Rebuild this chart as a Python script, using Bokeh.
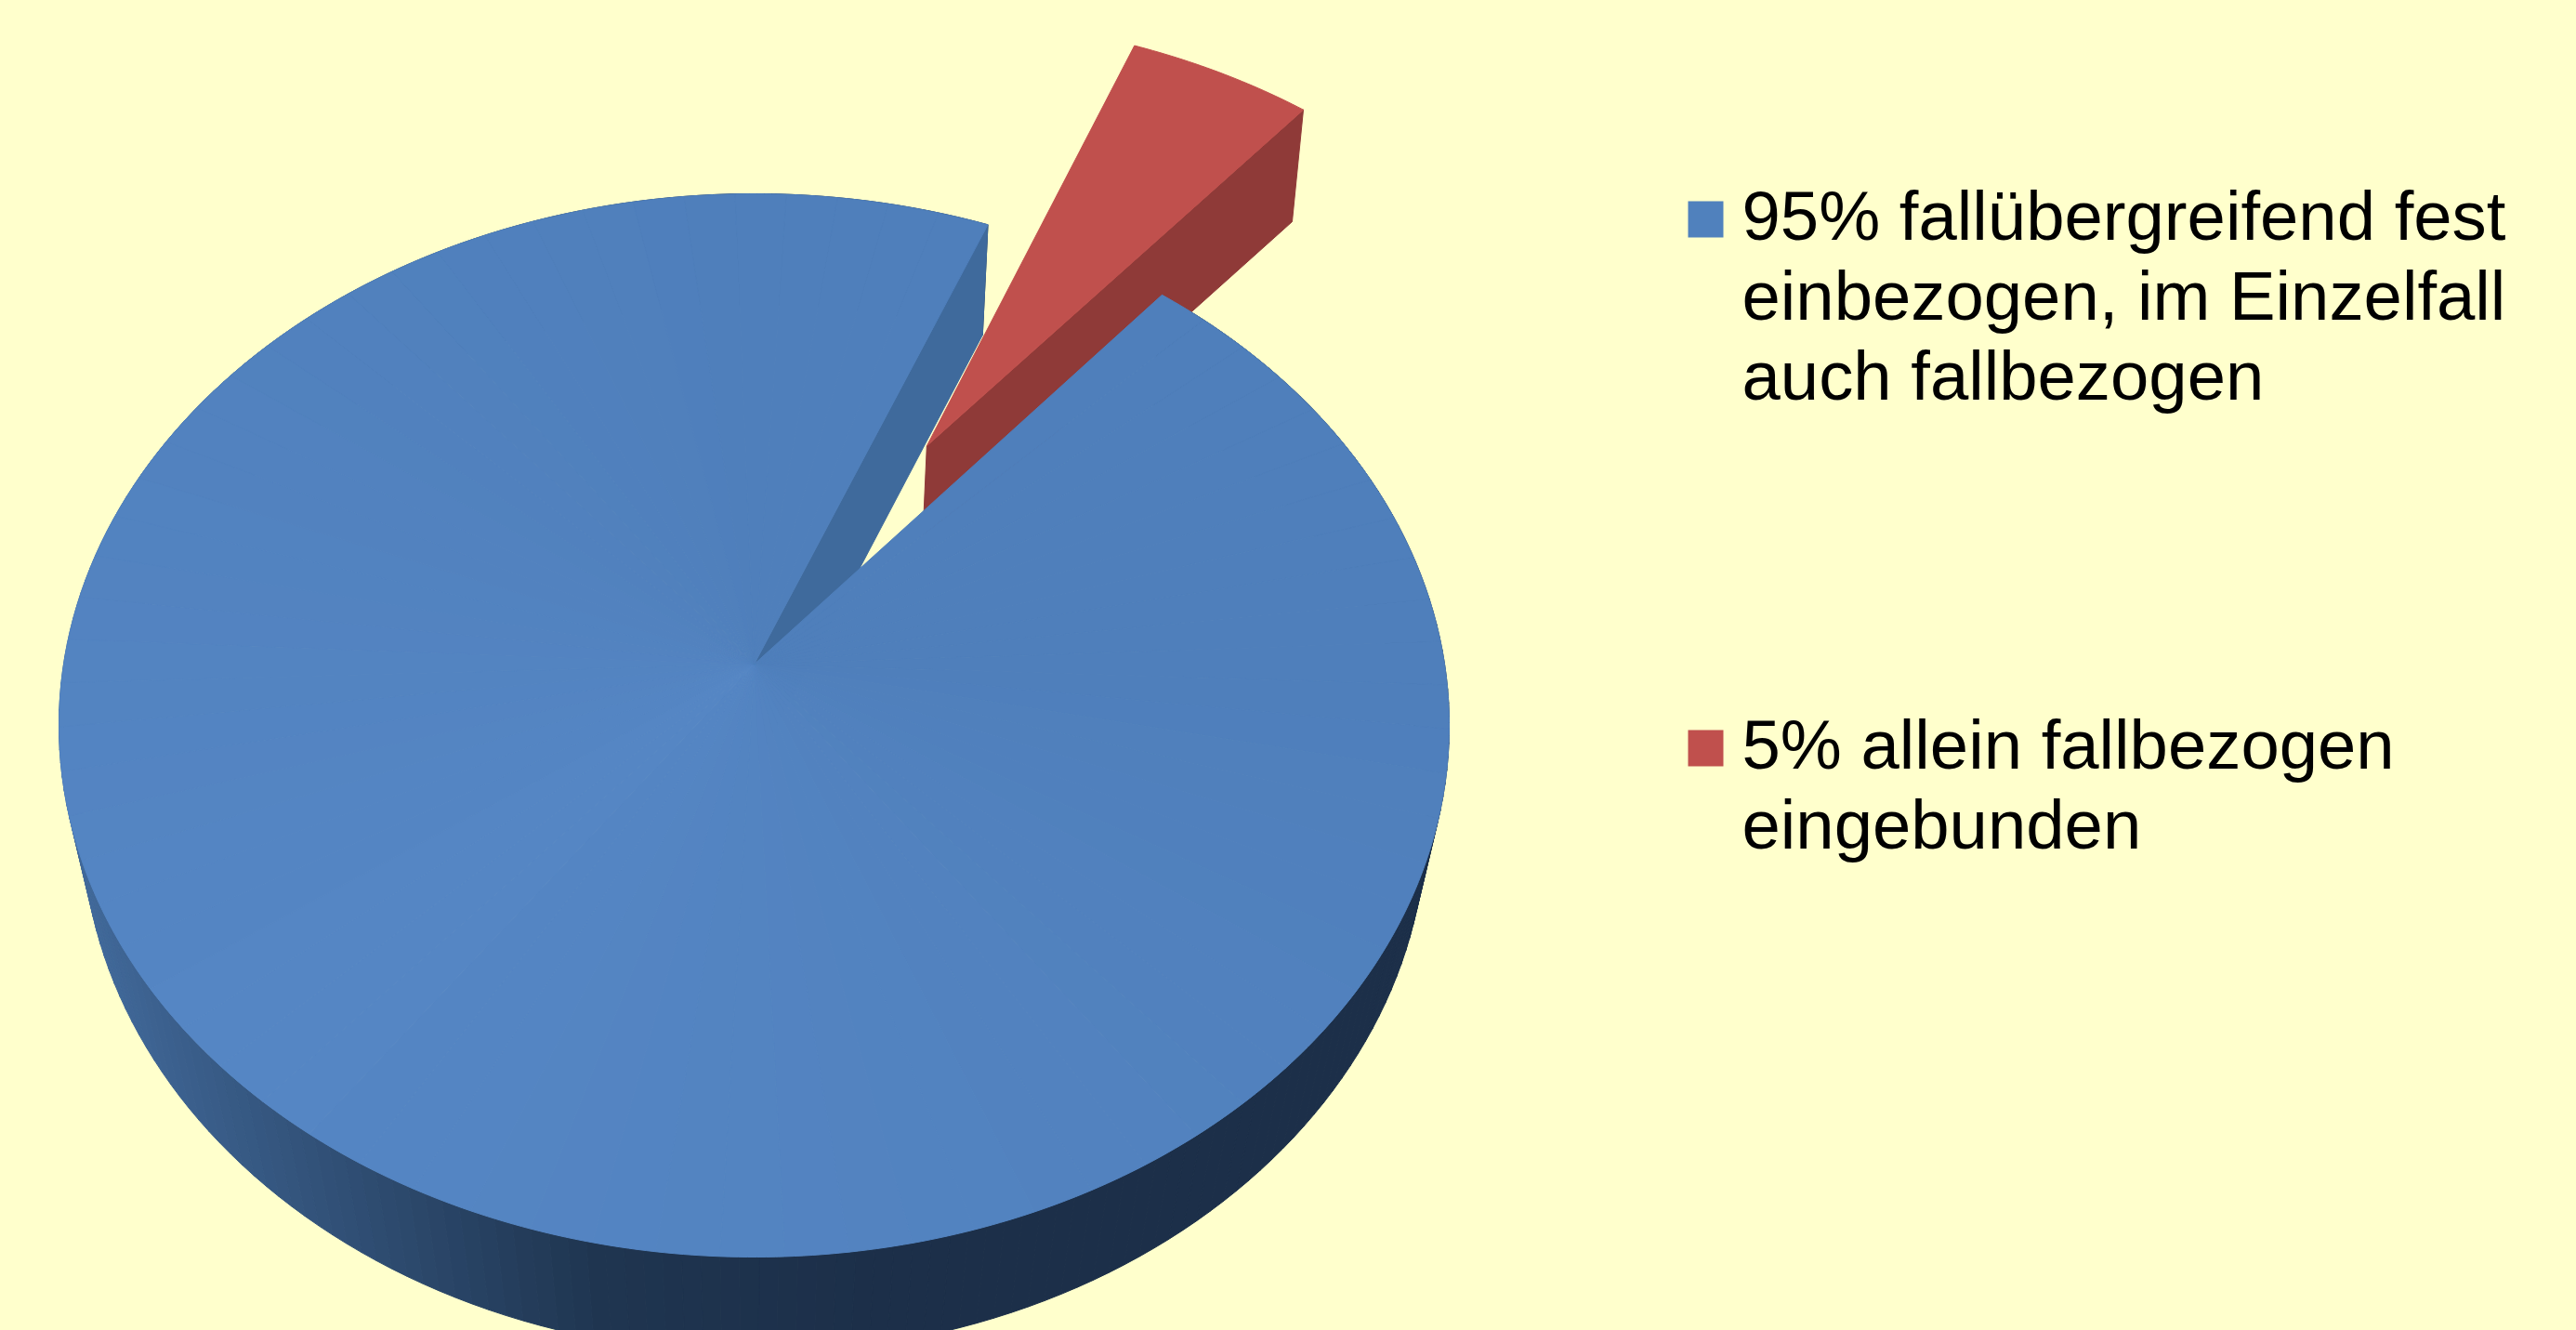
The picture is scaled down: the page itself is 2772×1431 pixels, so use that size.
import numpy as np
from bokeh.plotting import figure
from bokeh.embed import file_html
from bokeh.resources import INLINE
from bokeh.core.properties import value

# data
shares = [95, 5]
labels = ["95% fallübergreifend fest\neinbezogen, im Einzelfall\nauch fallbezogen",
          "5% allein fallbezogen\neingebunden"]
colors_top = ["#5181bd", "#c0504d"]
colors_cut = ["#3f6a9c", "#8f3a38"]
legend_colors = ["#5081bd", "#c0504d"]

# view of the pie: tilted disc seen in perspective
CX, CY, RX, RY, K = 811.0, 780.0, 748.0, 572.0, 0.115
START = 22.0          # degrees clockwise from "up" at which the small slice begins
EXPLODE = 0.51        # slice pull-out as a share of the radius
WALL_A, WALL_B = 0.9865, 122.0


def project(tx, ty, bottom=False):
    tx, ty = np.asarray(tx, float), np.asarray(ty, float)
    d = 1 + K * ty
    u = tx * np.sqrt(1 - K * K) / d
    v = (ty + K) / d
    sx = CX + RX * u
    sy = CY - RY * v
    if bottom:
        s = 0.982 - 0.00002 * sy
        sx = CX + (sx - CX) * s
        sy = WALL_A * sy + WALL_B
    return sx, sy


def rim(a0, a1, n, ox=0.0, oy=0.0):
    a = np.radians(np.linspace(a0, a1, n))
    return ox + np.sin(a), oy + np.cos(a)


def lerp(c0, c1, t):
    t = float(np.clip(t, 0, 1))
    a = [int(c0[i:i + 2], 16) for i in (1, 3, 5)]
    b = [int(c1[i:i + 2], 16) for i in (1, 3, 5)]
    return "#%02x%02x%02x" % tuple(round(a[i] + (b[i] - a[i]) * t) for i in range(3))


span_small = 360.0 * shares[1] / sum(shares)
blue_a0 = START + span_small
blue_a1 = START + 360.0

p = figure(width=2764, height=1423, x_range=(8, 2772), y_range=(1431, 8),
           toolbar_location=None, output_backend="svg", min_border=0,
           background_fill_color="#ffffcc", border_fill_color="#ffffcc")
p.axis.visible = False
p.grid.visible = False
p.outline_line_color = None

# outer wall of the large slice, shaded by screen position
N = 240
rx, ry = rim(blue_a0, blue_a1, N + 1)
tx, ty = project(rx, ry)
bx, by = project(rx, ry, bottom=True)
for i in range(N):
    xm = (tx[i] + tx[i + 1]) / 2
    c = lerp("#41699a", "#1f3550", (xm - 80) / 560) if xm < 640 else lerp("#1f3550", "#1c2f49", (xm - 640) / 300)
    p.patch([tx[i], tx[i + 1], bx[i + 1], bx[i]], [ty[i], ty[i + 1], by[i + 1], by[i]],
            fill_color=c, line_color=c, line_width=1)

# cut face of the large slice
ax, ay = project(0, 0)
abx, aby = project(0, 0, bottom=True)
a = np.radians(START)
ex, ey = project(np.sin(a), np.cos(a))
ebx, eby = project(np.sin(a), np.cos(a), bottom=True)
p.patch([float(ax), float(ex), float(ebx), float(abx)], [float(ay), float(ey), float(eby), float(aby)],
        fill_color=colors_cut[0], line_color=colors_cut[0], line_width=1)

# pulled-out small slice
mid = np.radians(START + span_small / 2)
ox, oy = EXPLODE * np.sin(mid), EXPLODE * np.cos(mid)
e = np.radians(START + span_small)
r0x, r0y = project(ox, oy)
r1x, r1y = project(ox + np.sin(e), oy + np.cos(e))
r0bx, r0by = project(ox, oy, bottom=True)
r1bx, r1by = project(ox + np.sin(e), oy + np.cos(e), bottom=True)
p.patch([float(r0x), float(r1x), float(r1bx), float(r0bx)], [float(r0y), float(r1y), float(r1by), float(r0by)],
        fill_color=colors_cut[1], line_color=colors_cut[1], line_width=1)
sx, sy = rim(START, START + span_small, 30, ox, oy)
px, py = project(sx, sy)
p.patch(list(px) + [float(r0x)], list(py) + [float(r0y)],
        fill_color=colors_top[1], line_color=colors_top[1], line_width=1)

# top of the large slice, a fan of faintly changing sectors
M = 72
edges = np.linspace(blue_a0, blue_a1, M + 1)
for i in range(M):
    fx, fy = rim(edges[i], edges[i + 1], 8)
    qx, qy = project(fx, fy)
    am = ((edges[i] + edges[i + 1]) / 2) % 360
    # lightest towards the lower left, a little darker towards the upper side
    t = np.clip(1 - abs(am - 225) / 135, 0, 1)
    c = lerp("#4f7fbb", "#5586c4", t)
    p.patch(list(qx) + [float(ax)], list(qy) + [float(ay)], fill_color=c, line_color=c, line_width=1)

# legend
LEG_X0, LEG_X1, TXT_X = 1816, 1854, 1874
LEG_TOPS = [216, 785]
LEG_SIZE = 39
LINE_GAP = 86
for lab, col, top in zip(labels, legend_colors, LEG_TOPS):
    p.quad(left=[LEG_X0], right=[LEG_X1], top=[top], bottom=[top + LEG_SIZE], fill_color=col, line_color=None)
    lines = lab.split("\n")
    ys = [top + 16 + LINE_GAP * i for i in range(len(lines))]
    p.text(x=[TXT_X] * len(lines), y=ys, text=lines, text_font=value("Liberation Sans"),
           text_font_size="74.3px", text_color="#000000", text_baseline="alphabetic", text_align="left")

html = file_html(p, INLINE)
html = html.replace("</head>", "<style>html,body{background:#ffffcc;overflow:hidden}body{margin:8px 0 0 8px}</style></head>")
open("out.html", "w").write(html)
